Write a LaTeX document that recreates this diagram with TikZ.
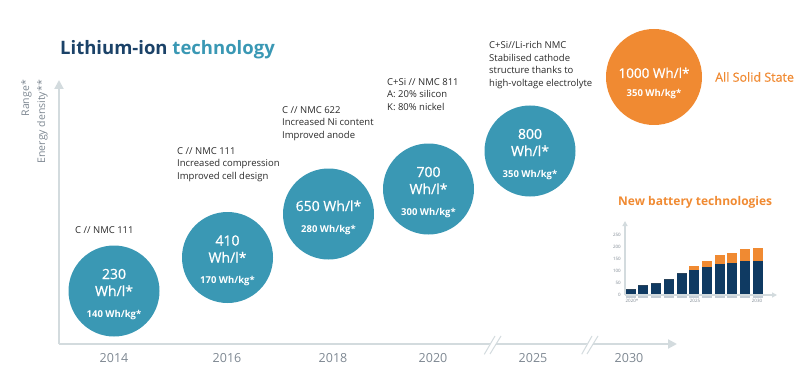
\documentclass[tikz,border=0pt]{standalone}
\usepackage{fontspec}
\setmainfont{Open Sans}
\usetikzlibrary{arrows.meta}
\definecolor{cteal}{HTML}{3A98B4}
\definecolor{corange}{HTML}{F08A32}
\definecolor{cnavy}{HTML}{0F3A62}
\definecolor{ctitle}{HTML}{1B4268}
\definecolor{ctext}{HTML}{2A2A2A}
\definecolor{cgray}{HTML}{7E8892}
\definecolor{caxis}{HTML}{D3DBDE}
\definecolor{cshade}{HTML}{C4CDD5}
\begin{document}
\begin{tikzpicture}[x=1pt,y=-1pt,
  bubble/.style={circle,fill=cteal,inner sep=0,minimum size=91pt},
  bigtxt/.style={text=white,font=\fontsize{14}{16}\selectfont\addfontfeature{FakeBold=0.7},anchor=base,inner sep=0},
  smalltxt/.style={text=white,font=\bfseries\fontsize{9.5}{12}\selectfont,anchor=base,inner sep=0},
  note/.style={text=ctext,font=\fontsize{9.5}{12.7}\selectfont,align=left,anchor=north west,inner sep=0},
  yearlab/.style={text=cgray,font=\fontsize{12.5}{15}\selectfont,inner sep=0},
  axisline/.style={draw=caxis,line width=2pt,-{Triangle[length=9pt,width=9pt]}},
  chartaxis/.style={draw=caxis,line width=1.2pt,-{Triangle[length=5pt,width=5pt]}},
  ticklab/.style={text=cgray,font=\fontsize{4.5}{5}\selectfont,inner sep=0},
]
\useasboundingbox (0,0) rectangle (800,385);

% title
\node[anchor=base west,inner sep=0,font=\bfseries\fontsize{18.5}{22}\selectfont] (title) at (60,55)
  {\textcolor{ctitle}{Lithium-ion} \textcolor{cteal}{technology}};

% axes
\coordinate (o) at (59,344);
\coordinate (ytop) at (59,80);
\coordinate (xend) at (677,344);
\draw[axisline] (o) -- (ytop);
\draw[axisline] (o) -- (xend);

% axis breaks
\fill[white] (486,351) -- (494,337) -- (500,337) -- (492,351) -- cycle;
\draw[caxis,line width=1pt] (484.3,354.3) -- (495,336) (490,354) -- (501,336);
\fill[white] (583,351) -- (591,337) -- (597,337) -- (589,351) -- cycle;
\draw[caxis,line width=1pt] (581.7,354.3) -- (592,336) (587,354) -- (598,336);

\node[rotate=90,anchor=north east,align=right,inner sep=0,text=cgray,font=\fontsize{10.5}{16}\selectfont] (ylab) at (21,80) {Range*\\Energy density**};

% years
\node[yearlab] (y14) at (114,358) {2014};
\node[yearlab] (y16) at (227,358) {2016};
\node[yearlab] (y18) at (333,358) {2018};
\node[yearlab] (y20) at (433,358) {2020};
\node[yearlab] (y25) at (533,358) {2025};
\node[yearlab] (y30) at (629,358) {2030};

% bubbles
\node[bubble] (c1) at (114,291) {};
\node[bubble] (c2) at (227.5,257.5) {};
\node[bubble] (c3) at (328.5,214) {};
\node[bubble] (c4) at (428.5,189) {};
\node[bubble] (c5) at (530,151) {};
\node[bubble,fill=corange,minimum size=96pt] (c6) at (654,77) {};

\node[bigtxt] (c1a) at ([yshift=12pt]c1.center) {230};
\node[bigtxt] (c1b) at ([yshift=-5pt]c1.center) {Wh/l*};
\node[smalltxt] (c1c) at ([yshift=-26pt]c1.center) {140 Wh/kg*};

\node[bigtxt] (c2a) at ([yshift=12pt]c2.center) {410};
\node[bigtxt] (c2b) at ([yshift=-5pt]c2.center) {Wh/l*};
\node[smalltxt] (c2c) at ([yshift=-26pt]c2.center) {170 Wh/kg*};

\node[bigtxt] (c3a) at ([yshift=3pt]c3.center) {650 Wh/l*};
\node[smalltxt] (c3c) at ([yshift=-18pt]c3.center) {280 Wh/kg*};

\node[bigtxt] (c4a) at ([yshift=12pt]c4.center) {700};
\node[bigtxt] (c4b) at ([yshift=-5pt]c4.center) {Wh/l*};
\node[smalltxt] (c4c) at ([yshift=-26pt]c4.center) {300 Wh/kg*};

\node[bigtxt] (c5a) at ([yshift=12pt]c5.center) {800};
\node[bigtxt] (c5b) at ([yshift=-5pt]c5.center) {Wh/l*};
\node[smalltxt] (c5c) at ([yshift=-26pt]c5.center) {350 Wh/kg*};

\node[bigtxt,font=\fontsize{13.5}{16}\selectfont\addfontfeature{FakeBold=0.7}] (c6a) at ([yshift=-1pt]c6.center) {1000 Wh/l*};
\node[smalltxt] (c6c) at ([yshift=-20pt]c6.center) {350 Wh/kg*};

% notes
\node[note] (n1) at (75,226) {C // NMC 111};
\node[note] (n2) at (177,147) {C // NMC 111\\Increased compression\\Improved cell design};
\node[note] (n3) at (282,106) {C // NMC 622\\Increased Ni content\\Improved anode};
\node[note] (n4) at (387,78) {C+Si // NMC 811\\A: 20\% silicon\\K: 80\% nickel};
\node[note] (n5) at (489,41) {C+Si//Li-rich NMC\\Stabilised cathode\\structure thanks to\\high-voltage electrolyte};

\node[anchor=west,inner sep=0,text=corange,font=\fontsize{12.5}{15}\selectfont\addfontfeature{FakeBold=0.5}] (ass) at (715,77) {All Solid State};
\node[anchor=west,inner sep=0,text=corange,font=\bfseries\fontsize{12}{15}\selectfont] (nbt) at (618,202) {New battery technologies};

% small chart
\foreach \i/\n/\t in {0/25/25,1/40/40,2/50/50,3/65/65,4/90/90,5/105/122,6/115/140,7/130/167,8/135/177,9/142/190,10/140/197}{
  \fill[cshade] (625.7+\i*12.7,295) rectangle ++(10,3);
  \fill[cnavy] (625.7+\i*12.7,295) rectangle ++(10,-\n*0.24);
  \fill[corange] (625.7+\i*12.7,295-\n*0.24) rectangle ++(10,-\t*0.24+\n*0.24);
}
\coordinate (co) at (625,295);
\coordinate (cytop) at (625,221);
\coordinate (cxend) at (777,295);
\draw[chartaxis] (co) -- (cytop);
\draw[chartaxis] (co) -- (cxend);
\foreach \v in {0,50,100,150,200,250}{
  \node[ticklab,anchor=east] (t\v) at (621,295-\v*0.24) {\v};
}
\node[ticklab] (x20) at (632,301) {2020*};
\node[ticklab] (x25) at (695,301) {2025};
\node[ticklab] (x30) at (757,301) {2030};
\end{tikzpicture}
\end{document}
